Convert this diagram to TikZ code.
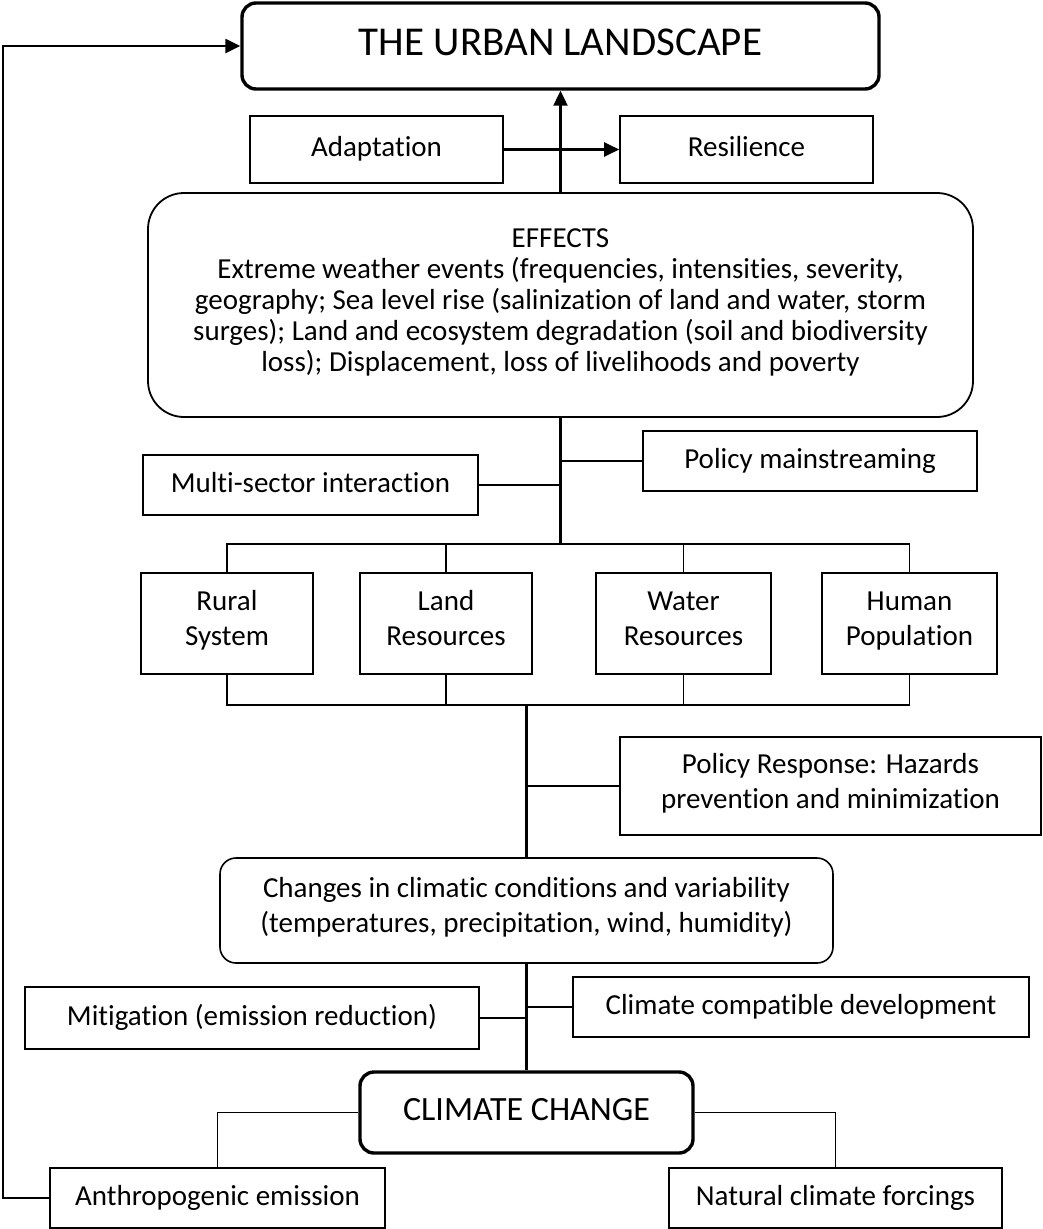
\documentclass[tikz,border=0pt]{standalone}
\usepackage{fontspec}
\setmainfont{Carlito}[Ligatures=NoCommon]
\usetikzlibrary{arrows.meta}
\tikzset{
  box/.style={draw, line width=1.6pt, rectangle, inner sep=0pt, align=center, font=\fontsize{29}{35}\selectfont,
    execute at begin node=\strut, execute at end node=\strut},
  rbox/.style={box, rounded corners=16pt},
  heavybox/.style={box, line width=3.4pt, rounded corners=14pt},
  conn/.style={line width=1.8pt},
  spine/.style={line width=2.6pt},
  arr/.style={line width=2.2pt, -{Triangle[length=15pt,width=14pt]}},
}
\begin{document}
\begin{tikzpicture}[x=1pt,y=-1pt]
\useasboundingbox (0,0) rectangle (1043,1229);
\fill[white] (0,0) rectangle (1043,1229);
% nodes
\node[heavybox, minimum width=637pt, minimum height=86pt, font=\fontsize{41}{48}\selectfont] (top) at (560.5,46) {THE URBAN LANDSCAPE};
\node[box, minimum width=253pt, minimum height=67pt] (adapt) at (376.5,149.5) {Adaptation};
\node[box, minimum width=253pt, minimum height=67pt] (resil) at (746.5,149.5) {Resilience};
\node[box, rounded corners=36pt, line width=1.8pt, minimum width=825pt, minimum height=224pt, font=\fontsize{29}{31}\selectfont] (effects) at (560.5,305) {EFFECTS\\Extreme weather events (frequencies, intensities, severity,\\geography; Sea level rise (salinization of land and water, storm\\surges); Land and ecosystem degradation (soil and biodiversity\\loss); Displacement, loss of livelihoods and poverty};
\node[box, minimum width=335pt, minimum height=60pt] (multi) at (310.5,485) {Multi-sector interaction};
\node[box, minimum width=334pt, minimum height=60pt] (policy) at (810,461) {Policy mainstreaming};
\node[box, minimum width=172pt, minimum height=101pt] (rural) at (227,623.5) {Rural\\System};
\node[box, minimum width=172pt, minimum height=101pt] (land) at (446,623.5) {Land\\Resources};
\node[box, minimum width=175pt, minimum height=101pt] (water) at (683.5,623.5) {Water\\Resources};
\node[box, minimum width=175pt, minimum height=101pt] (human) at (909.5,623.5) {Human\\Population};
\node[box, minimum width=421pt, minimum height=98pt] (presp) at (830.5,786) {Policy Response: Hazards\\prevention and minimization};
\node[rbox, minimum width=613pt, minimum height=105pt] (changes) at (526.5,910.5) {Changes in climatic conditions and variability\\(temperatures, precipitation, wind, humidity)};
\node[box, minimum width=456pt, minimum height=60pt] (ccd) at (801,1007) {Climate compatible development};
\node[box, minimum width=454pt, minimum height=62pt] (mitig) at (252,1018) {Mitigation (emission reduction)};
\node[heavybox, minimum width=333pt, minimum height=81pt, font=\fontsize{34}{40}\selectfont] (cc) at (526.5,1112.5) {CLIMATE CHANGE};
\node[box, minimum width=335pt, minimum height=60pt] (anthro) at (217.5,1198) {Anthropogenic emission};
\node[box, minimum width=333pt, minimum height=60pt] (natural) at (835.5,1198) {Natural climate forcings};
% helper coordinates
\coordinate (bt) at (0,544);
\coordinate (bb) at (0,705);
\coordinate (fb) at (3,0);
% top part
\draw[arr] (effects.north) -- (top.south);
\draw[arr] (adapt.east) -- (resil.west);
% middle spine
\draw[spine] (effects.south) -- (effects.south |- bt);
\draw[conn] (multi.east) -- (multi.east -| effects.south);
\draw[conn] (policy.west) -- (policy.west -| effects.south);
\draw[conn] (rural.north) |- (human.north |- bt) -- (human.north);
\draw[spine] (land.north |- bt) -- (water.north |- bt);
\draw[conn] (land.north) -- (land.north |- bt);
\draw[conn] (water.north) -- (water.north |- bt);
\draw[conn] (rural.south) |- (human.south |- bb) -- (human.south);
\draw[spine] (land.south |- bb) -- (water.south |- bb);
\draw[conn] (land.south) -- (land.south |- bb);
\draw[conn] (water.south) -- (water.south |- bb);
\draw[spine] (changes.north |- bb) -- (changes.north);
\draw[conn] (presp.west) -- (presp.west -| changes.north);
% lower spine
\draw[spine] (changes.south) -- (cc.north);
\draw[conn] (ccd.west) -- (ccd.west -| cc.north);
\draw[conn] (mitig.east) -- (mitig.east -| cc.north);
\draw[conn] (cc.west) -| (anthro.north);
\draw[conn] (cc.east) -| (natural.north);
% feedback loop
\draw[arr, line width=2.4pt] (anthro.west) -- (fb |- anthro.west) -- (fb |- top.west) -- (top.west);
\end{tikzpicture}
\end{document}
